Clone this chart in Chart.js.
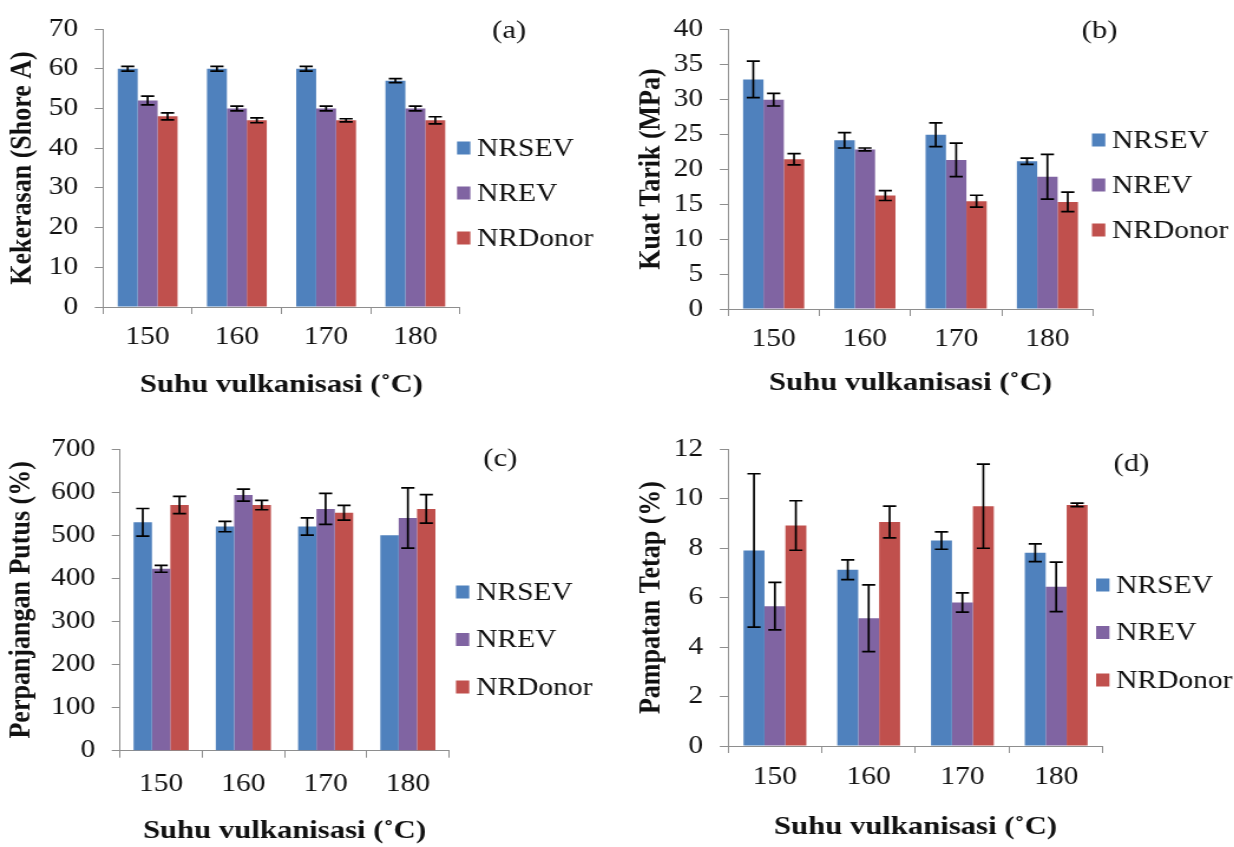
<!DOCTYPE html>
<html>
<head>
<meta charset="utf-8">
<title>Sifat vulkanisat</title>
<script src="https://cdn.jsdelivr.net/npm/chart.js@4.4.0/dist/chart.umd.min.js"></script>
<style>
    body { margin: 0; background: #fff; width: 1234px; height: 847px; overflow: hidden; position: relative; }
    canvas.panel { position: absolute; transform-origin: 0 0; transform: scaleX(1.18); }
</style>
</head>
<body>
<canvas id="chartA" class="panel" width="523" height="420" style="left:0;top:0"></canvas>
<canvas id="chartB" class="panel" width="523" height="420" style="left:617px;top:0"></canvas>
<canvas id="chartC" class="panel" width="523" height="427" style="left:0;top:420px"></canvas>
<canvas id="chartD" class="panel" width="523" height="427" style="left:617px;top:420px"></canvas>
<script>
// kategori & seri
const suhu = ['150', '160', '170', '180'];
const namaSeri = ['NRSEV', 'NREV', 'NRDonor'];
const warnaSeri = ['#4F81BD', '#8064A2', '#C0504D'];

// (a) Kekerasan (Shore A)
const kekerasanNRSEV = [60, 60, 60, 57];
const kekerasanNREV = [52, 50, 50, 50];
const kekerasanNRDonor = [48, 47, 47, 47];
const kekerasanErrNRSEV = [0.6, 0.6, 0.6, 0.5];
const kekerasanErrNREV = [1.1, 0.6, 0.6, 0.6];
const kekerasanErrNRDonor = [0.9, 0.6, 0.4, 0.9];

// (b) Kuat Tarik (MPa)
const kuatTarikNRSEV = [32.8, 24.1, 24.9, 21.1];
const kuatTarikNREV = [29.9, 22.8, 21.3, 18.9];
const kuatTarikNRDonor = [21.4, 16.2, 15.4, 15.3];
const kuatTarikErrNRSEV = [2.6, 1.1, 1.7, 0.45];
const kuatTarikErrNREV = [0.9, 0.2, 2.4, 3.2];
const kuatTarikErrNRDonor = [0.8, 0.7, 0.85, 1.4];

// (c) Perpanjangan Putus (%)
const perpanjanganNRSEV = [530, 520, 520, 500];
const perpanjanganNREV = [422, 593, 561, 540];
const perpanjanganNRDonor = [570, 570, 552, 561];
const perpanjanganErrNRSEV = [32, 12, 20, 0];
const perpanjanganErrNREV = [8, 14, 36, 70];
const perpanjanganErrNRDonor = [20, 11, 17, 33];

// (d) Pampatan Tetap (%)
const pampatanNRSEV = [7.9, 7.12, 8.3, 7.81];
const pampatanNREV = [5.65, 5.16, 5.8, 6.43];
const pampatanNRDonor = [8.91, 9.05, 9.69, 9.74];
const pampatanErrNRSEV = [3.1, 0.4, 0.35, 0.36];
const pampatanErrNREV = [0.96, 1.35, 0.39, 1.0];
const pampatanErrNRDonor = [1.0, 0.64, 1.7, 0.07];

const hurufSerif = "'Liberation Serif', 'Times New Roman', serif";
const warnaSumbu = '#8e8e8e';

// error bar hitam di atas tiap batang
const errorBarPlugin = {
    id: 'errorBars',
    afterDatasetsDraw(chart) {
        const ctx = chart.ctx;
        const yScale = chart.scales.y;
        ctx.save();
        ctx.strokeStyle = '#000';
        ctx.lineWidth = 1.7;
        chart.data.datasets.forEach((ds, i) => {
            const meta = chart.getDatasetMeta(i);
            meta.data.forEach((bar, j) => {
                const err = ds.errors[j];
                if (!err) return;
                const yAtas = yScale.getPixelForValue(ds.data[j] + err);
                const yBawah = yScale.getPixelForValue(ds.data[j] - err);
                const x = bar.x;
                const w = 5.6;
                ctx.beginPath();
                ctx.moveTo(x, yAtas); ctx.lineTo(x, yBawah);
                ctx.moveTo(x - w, yAtas); ctx.lineTo(x + w, yAtas);
                ctx.moveTo(x - w, yBawah); ctx.lineTo(x + w, yBawah);
                ctx.stroke();
            });
        });
        ctx.restore();
    }
};

// legenda di kanan
const legendaPlugin = {
    id: 'legendaKanan',
    afterDraw(chart, args, opts) {
        const ctx = chart.ctx;
        ctx.save();
        ctx.font = '25px ' + hurufSerif;
        ctx.textBaseline = 'middle';
        ctx.textAlign = 'left';
        chart.data.datasets.forEach((ds, i) => {
            const y = opts.y + i * opts.gap;
            ctx.fillStyle = ds.backgroundColor;
            ctx.fillRect(opts.x, y - 6.5, 11.3, 13);
            ctx.fillStyle = '#111';
            ctx.fillText(ds.label, opts.x + 17, y + 1);
        });
        ctx.restore();
    }
};

// huruf panel (a), (b), ...
const labelPanelPlugin = {
    id: 'labelPanel',
    afterDraw(chart, args, opts) {
        const ctx = chart.ctx;
        ctx.save();
        ctx.font = '26px ' + hurufSerif;
        ctx.textBaseline = 'middle';
        ctx.textAlign = 'center';
        ctx.fillStyle = '#111';
        ctx.fillText(opts.text, opts.x, opts.y);
        ctx.restore();
    }
};

function buatChart(id, cfg) {
    return new Chart(document.getElementById(id), {
        type: 'bar',
        data: {
            labels: suhu,
            datasets: namaSeri.map((nama, i) => ({
                label: nama,
                data: cfg.nilai[i],
                errors: cfg.galat[i],
                backgroundColor: warnaSeri[i],
                borderWidth: 0,
                categoryPercentage: 0.67,
                barPercentage: 1
            }))
        },
        options: {
            responsive: false,
            animation: false,
            layout: { padding: { left: 0, top: cfg.atas, right: cfg.kanan, bottom: 0 } },
            plugins: {
                legend: { display: false },
                tooltip: { enabled: false },
                legendaKanan: cfg.legenda,
                labelPanel: cfg.label
            },
            scales: {
                x: {
                    grid: { drawOnChartArea: false, drawTicks: true, tickLength: 7, color: warnaSumbu, offset: true },
                    border: { color: warnaSumbu, width: 1 },
                    ticks: { color: '#111', font: { family: hurufSerif, size: 25 }, padding: cfg.padTickX, maxRotation: 0 },
                    title: {
                        display: true,
                        text: 'Suhu vulkanisasi (˚C)',
                        color: '#111',
                        font: { family: hurufSerif, size: 26, weight: 'bold' },
                        padding: { top: 0, bottom: cfg.padJudulX }
                    },
                    afterFit: s => { s.height = cfg.tinggiX; }
                },
                y: {
                    min: 0,
                    max: cfg.maks,
                    grid: { drawOnChartArea: false, drawTicks: true, tickLength: 7, color: warnaSumbu },
                    border: { color: warnaSumbu, width: 1 },
                    ticks: { stepSize: cfg.langkah, color: '#111', font: { family: hurufSerif, size: 25 }, padding: cfg.padTickY },
                    title: {
                        display: true,
                        text: cfg.judulY,
                        color: '#111',
                        font: { family: hurufSerif, size: 26, weight: 'bold' },
                        padding: { top: cfg.padJudulY, bottom: 0 }
                    },
                    afterFit: s => { s.width = cfg.lebarY; }
                }
            }
        },
        plugins: [errorBarPlugin, legendaPlugin, labelPanelPlugin]
    });
}

buatChart('chartA', {
    nilai: [kekerasanNRSEV, kekerasanNREV, kekerasanNRDonor],
    galat: [kekerasanErrNRSEV, kekerasanErrNREV, kekerasanErrNRDonor],
    judulY: 'Kekerasan (Shore A)', maks: 70, langkah: 10,
    atas: 24, kanan: 133.2, lebarY: 87.3, tinggiX: 113,
    padTickX: 8.5, padTickY: 14, padJudulX: 19.4, padJudulY: 3.5,
    legenda: { x: 387.3, y: 148, gap: 45 },
    label: { text: '(a)', x: 431.5, y: 31 }
});

buatChart('chartB', {
    nilai: [kuatTarikNRSEV, kuatTarikNREV, kuatTarikNRDonor],
    galat: [kuatTarikErrNRSEV, kuatTarikErrNREV, kuatTarikErrNRDonor],
    judulY: 'Kuat Tarik (MPa)', maks: 40, langkah: 5,
    atas: 20, kanan: 119.6, lebarY: 94.1, tinggiX: 111,
    padTickX: 8, padTickY: 14, padJudulX: 21.4, padJudulY: 13.2,
    legenda: { x: 402.5, y: 140, gap: 45 },
    label: { text: '(b)', x: 409, y: 31.5 }
});

buatChart('chartC', {
    nilai: [perpanjanganNRSEV, perpanjanganNREV, perpanjanganNRDonor],
    galat: [perpanjanganErrNRSEV, perpanjanganErrNREV, perpanjanganErrNRDonor],
    judulY: 'Perpanjangan Putus (%)', maks: 700, langkah: 100,
    atas: 27.7, kanan: 142.5, lebarY: 101.7, tinggiX: 96.3,
    padTickX: 11.3, padTickY: 14, padJudulX: 0, padJudulY: 2.2,
    legenda: { x: 386.4, y: 172, gap: 47.5 },
    label: { text: '(c)', x: 424, y: 39.5 }
});

buatChart('chartD', {
    nilai: [pampatanNRSEV, pampatanNREV, pampatanNRDonor],
    galat: [pampatanErrNRSEV, pampatanErrNREV, pampatanErrNRDonor],
    judulY: 'Pampatan Tetap (%)', maks: 12, langkah: 2,
    atas: 17.3, kanan: 111.1, lebarY: 94.1, tinggiX: 101,
    padTickX: 9.5, padTickY: 14, padJudulX: 4.4, padJudulY: 14.1,
    legenda: { x: 406, y: 165, gap: 47.5 },
    label: { text: '(d)', x: 436, y: 44.5 }
});
</script>
</body>
</html>
